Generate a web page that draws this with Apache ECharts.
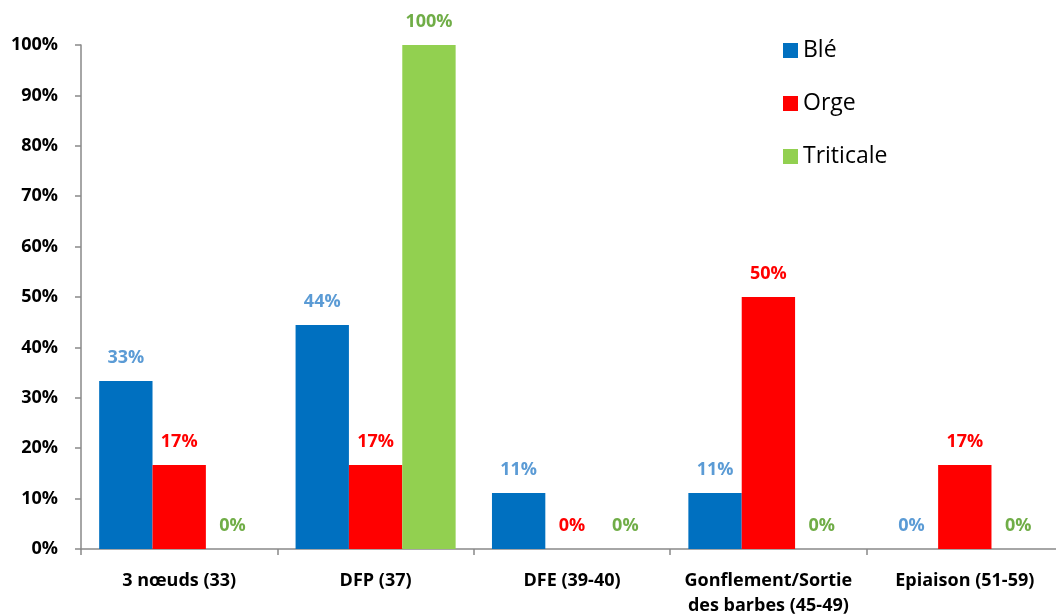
<!DOCTYPE html>
<html>
<head>
<meta charset="utf-8">
<script src="https://cdn.jsdelivr.net/npm/echarts@6/dist/echarts.min.js"></script>
<style>
  html, body { margin: 0; padding: 0; background: #fff; }
  #main { width: 1056px; height: 615px; }
</style>
</head>
<body>
<div id="main"></div>
<script>
var categories = ['3 nœuds (33)', 'DFP (37)', 'DFE (39-40)', 'Gonflement/Sortie\ndes barbes (45-49)', 'Epiaison (51-59)'];
var ble = [33.33, 44.44, 11.11, 11.11, 0];
var orge = [16.67, 16.67, 0, 50, 16.67];
var triticale = [0, 100, 0, 0, 0];

var dom = document.getElementById('main');
var myChart = echarts.init(dom, null, { renderer: 'canvas' });

var font = '"Open Sans", "Liberation Sans", sans-serif';

function makeSeries(name, data, color, labelColor) {
    return {
        name: name,
        type: 'bar',
        data: data,
        barGap: 0,
        barCategoryGap: '18.5%',
        itemStyle: { color: color },
        label: {
            show: true,
            position: 'top',
            distance: 14,
            color: labelColor,
            fontFamily: font,
            fontWeight: 'bold',
            fontSize: 18,
            formatter: function (p) { return Math.round(p.value) + '%'; }
        }
    };
}

var option = {
    animation: false,
    legend: {
        orient: 'vertical',
        left: 778,
        top: 34,
        itemWidth: 15,
        itemHeight: 15,
        itemGap: 30,
        icon: 'rect',
        textStyle: { fontFamily: font, fontSize: 23, color: '#000' },
        data: ['Blé', 'Orge', 'Triticale']
    },
    grid: {
        left: 81,
        top: 45,
        width: 982,
        height: 504,
        containLabel: false,
        outerBoundsMode: 'none'
    },
    xAxis: {
        type: 'category',
        data: categories,
        axisLine: { lineStyle: { color: '#898989', width: 1.5 } },
        axisTick: { show: true, length: 6, lineStyle: { color: '#898989', width: 1.5 } },
        axisLabel: {
            interval: 0,
            margin: 19,
            color: '#000',
            fontFamily: font,
            fontWeight: 'bold',
            fontSize: 18,
            lineHeight: 25
        }
    },
    yAxis: {
        type: 'value',
        min: 0,
        max: 100,
        interval: 10,
        splitLine: { show: false },
        axisLine: { show: true, lineStyle: { color: '#898989', width: 1.5 } },
        axisTick: { show: true, length: 6, lineStyle: { color: '#898989', width: 1.5 } },
        axisLabel: {
            margin: 23,
            color: '#000',
            fontFamily: font,
            fontWeight: 'bold',
            fontSize: 18,
            formatter: '{value}%'
        }
    },
    series: [
        makeSeries('Blé', ble, '#0070c0', '#5b9bd5'),
        makeSeries('Orge', orge, '#ff0000', '#ff0000'),
        makeSeries('Triticale', triticale, '#92d050', '#70ad47')
    ]
};

myChart.setOption(option);
window.addEventListener('resize', myChart.resize);
</script>
</body>
</html>
